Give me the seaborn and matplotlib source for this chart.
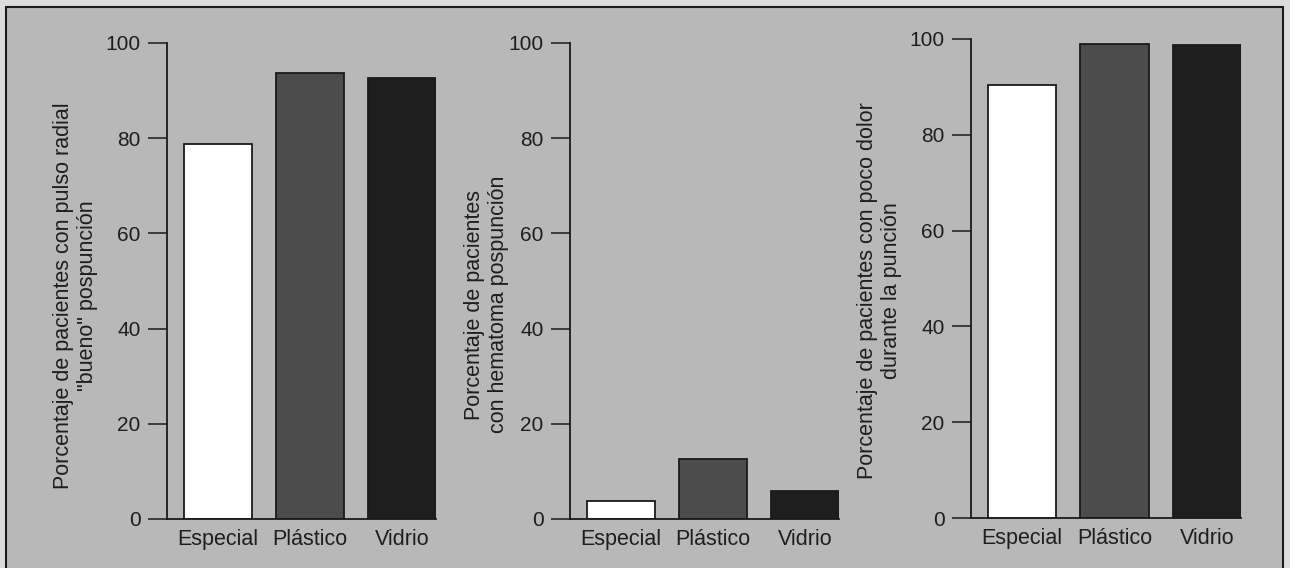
import matplotlib
matplotlib.use("Agg")
import matplotlib.pyplot as plt
from matplotlib.patches import Rectangle
import seaborn as sns

categorias = ["Especial", "Plástico", "Vidrio"]
pulso_bueno = [78.7, 93.6, 92.7]
hematoma = [3.8, 12.7, 5.9]
poco_dolor = [90.5, 99.0, 98.7]
yticks = [0, 20, 40, 60, 80, 100]
ylabels = [
    "Porcentaje de pacientes con pulso radial\n\"bueno\" pospunción",
    "Porcentaje de pacientes\ncon hematoma pospunción",
    "Porcentaje de pacientes con poco dolor\ndurante la punción",
]
colores = ["#ffffff", "#4c4c4c", "#1e1e1e"]

sns.set_theme(style="white")
plt.rcParams["font.family"] = ["Liberation Sans", "DejaVu Sans"]
txt = "#1e1e1e"

fig = plt.figure(figsize=(12.9, 5.68), dpi=100, facecolor="#dcdcdc")
fig.add_artist(Rectangle((6 / 1290, -0.01), (1283 - 6) / 1290, 1.01 - 7 / 568,
                         transform=fig.transFigure, facecolor="#b8b8b8",
                         edgecolor="#1a1a1a", linewidth=1.5, zorder=0))

positions = [
    [167 / 1290, 1 - 519 / 568, 269 / 1290, 476 / 568],
    [570 / 1290, 1 - 519 / 568, 269 / 1290, 476 / 568],
    [971 / 1290, 1 - 518 / 568, 270 / 1290, 479 / 568],
]
label_coords = [(-0.34, 0.47), (-0.31, 0.45), (-0.34, 0.475)]

for pos, vals, lab, lc in zip(positions, [pulso_bueno, hematoma, poco_dolor], ylabels, label_coords):
    ax = fig.add_axes(pos)
    ax.set_facecolor("none")
    sns.barplot(x=categorias, y=vals, hue=categorias, palette=colores, legend=False,
                width=0.74, edgecolor="#1a1a1a", linewidth=1.3, saturation=1, ax=ax)
    ax.set_xlim(-0.55, 2.37)
    ax.set_ylim(0, 100)
    ax.set_yticks(yticks)
    ax.set_yticklabels([str(t) for t in yticks], fontsize=15, color=txt)
    ax.tick_params(axis="y", direction="out", length=13.5, width=1.1, color="#1a1a1a", pad=5.5, left=True)
    ax.tick_params(axis="x", length=0, pad=7, labelsize=15.5, labelcolor=txt)
    for s in ["top", "right"]:
        ax.spines[s].set_visible(False)
    for s in ["left", "bottom"]:
        ax.spines[s].set_color("#1a1a1a")
        ax.spines[s].set_linewidth(1.3)
    ax.set_ylabel(lab, fontsize=15.5, color=txt, linespacing=1.2)
    ax.yaxis.label.set_verticalalignment("center")
    ax.yaxis.set_label_coords(*lc)
    ax.set_xlabel("")

fig.savefig("out.png", dpi=100, facecolor=fig.get_facecolor())
